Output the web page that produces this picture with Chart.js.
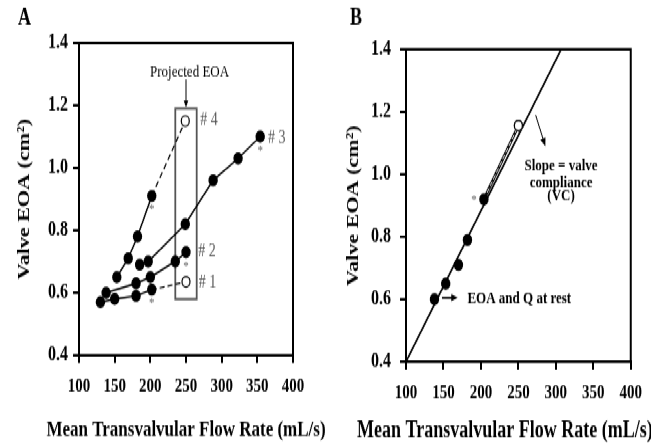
<!DOCTYPE html>
<html>
<head>
<meta charset="utf-8">
<script src="https://cdn.jsdelivr.net/npm/chart.js@4.4.0/dist/chart.umd.min.js"></script>
<style>
  html, body { margin: 0; padding: 0; background: #fff; overflow: hidden; }
  /* the figure is laid out on a 342px-tall canvas and stretched to full height */
  #figure { position: absolute; left: 0; top: 0; width: 651px; height: 342px;
            transform: scaleY(1.3012); transform-origin: 0 0; }
  #panelA { position: absolute; left: 0; top: 0; }
  #panelB { position: absolute; left: 330px; top: 0; }
</style>
</head>
<body>
<div id="figure">
  <canvas id="panelA" width="330" height="342"></canvas>
  <canvas id="panelB" width="321" height="342"></canvas>
</div>
<script>
// ---- panel A: EOA vs flow for each valve under stress ----
const valve1Flow = [130, 150, 180, 202];
const valve1Eoa  = [0.57, 0.58, 0.59, 0.61];
const valve1Proj = { flow: 250, eoa: 0.635 };

const valve2Flow = [138, 180, 200, 235, 250];
const valve2Eoa  = [0.60, 0.63, 0.65, 0.70, 0.73];

const valve3Flow = [185, 197, 249, 288, 323, 354];
const valve3Eoa  = [0.69, 0.70, 0.82, 0.96, 1.03, 1.10];

const valve4Flow = [153, 169, 182, 202];
const valve4Eoa  = [0.65, 0.71, 0.78, 0.91];
const valve4Proj = { flow: 249, eoa: 1.15 };

// ---- panel B: one valve with its compliance line ----
const restFlow = [138, 153, 170, 182, 204];
const restEoa  = [0.60, 0.65, 0.71, 0.79, 0.92];
const restProj = { flow: 250, eoa: 1.156 };
const vcLineFlow = [100, 307];
const vcLineEoa  = [0.4, 1.4];

// ---- axes ----
const flowTicks = [100, 150, 200, 250, 300, 350, 400];
const eoaTicks  = [0.4, 0.6, 0.8, 1.0, 1.2, 1.4];

const SERIF = "'Liberation Serif', 'Times New Roman', serif";

function pts(xs, ys) {
  return xs.map((x, i) => ({ x: x, y: ys[i] }));
}

function measured(xs, ys) {
  return {
    data: pts(xs, ys),
    borderColor: '#000',
    borderWidth: 1.4,
    pointRadius: 4,
    pointHoverRadius: 4,
    pointBackgroundColor: '#000',
    pointBorderColor: '#000',
    tension: 0
  };
}

function projected(xs, ys, proj) {
  const last = xs.length - 1;
  return {
    data: [{ x: xs[last], y: ys[last] }, { x: proj.flow, y: proj.eoa }],
    borderColor: '#000',
    borderWidth: 1.2,
    borderDash: [5, 3],
    pointRadius: [0, 4],
    pointBackgroundColor: '#fff',
    pointBorderColor: '#000',
    pointBorderWidth: 1.2,
    tension: 0
  };
}

function scales(yWidth, xHeight, yPad) {
  const grid = { display: true, drawOnChartArea: false, drawTicks: true,
                 tickLength: 6, color: '#000', lineWidth: 2 };
  return {
    x: {
      type: 'linear', min: 100, max: 400,
      afterBuildTicks: s => { s.ticks = flowTicks.map(v => ({ value: v })); },
      afterFit: s => { s.height = xHeight; },
      grid: grid,
      border: { display: true, color: '#000', width: 2 },
      ticks: { color: '#000', padding: 9, maxRotation: 0,
               font: { family: SERIF, weight: 'bold', size: 15 },
               callback: v => String(v) }
    },
    y: {
      type: 'linear', min: 0.4, max: 1.4,
      afterBuildTicks: s => { s.ticks = eoaTicks.map(v => ({ value: v })); },
      afterFit: s => { s.width = yWidth; },
      grid: grid,
      border: { display: true, color: '#000', width: 2 },
      ticks: { color: '#000', padding: yPad,
               font: { family: SERIF, weight: 'bold', size: 16 },
               callback: v => v.toFixed(1) }
    }
  };
}

function arrow(ctx, x1, y1, x2, y2, head) {
  const a = Math.atan2(y2 - y1, x2 - x1);
  ctx.beginPath();
  ctx.moveTo(x1, y1);
  ctx.lineTo(x2 - Math.cos(a) * head * 0.8, y2 - Math.sin(a) * head * 0.8);
  ctx.stroke();
  ctx.beginPath();
  ctx.moveTo(x2, y2);
  ctx.lineTo(x2 - head * Math.cos(a - 0.4), y2 - head * Math.sin(a - 0.4));
  ctx.lineTo(x2 - head * Math.cos(a + 0.4), y2 - head * Math.sin(a + 0.4));
  ctx.closePath();
  ctx.fill();
}

function text(ctx, str, x, y, font, align, color) {
  ctx.font = font;
  ctx.textAlign = align || 'left';
  ctx.textBaseline = 'middle';
  ctx.fillStyle = color || '#000';
  ctx.fillText(str, x, y);
}

// frame, letters and axis titles shared by both panels
function frame(chart, cfg) {
  const { ctx, chartArea: a } = chart;
  ctx.save();
  ctx.strokeStyle = '#000';
  ctx.lineWidth = 2;
  ctx.strokeRect(a.left, a.top, a.right - a.left, a.bottom - a.top);
  text(ctx, cfg.letter, cfg.letterX, 14, 'bold 18px ' + SERIF);
  text(ctx, 'Mean Transvalvular Flow Rate (mL/s)', cfg.xTitleX, 331,
       'bold ' + cfg.xTitleSize + 'px ' + SERIF, cfg.xTitleAlign);
  ctx.translate(cfg.yTitleX, (a.top + a.bottom) / 2);
  ctx.rotate(-Math.PI / 2);
  text(ctx, 'Valve EOA (cm²)', 0, 0, 'bold 17px ' + SERIF, 'center');
  ctx.restore();
}

// asterisk under the peak-stress measurement
function star(ctx, x, y) {
  text(ctx, '*', x, y, '11px ' + SERIF, 'center', '#666');
}

const panelADecor = {
  id: 'panelADecor',
  beforeDatasetsDraw(chart) {
    const { ctx, scales: { x, y } } = chart;
    ctx.save();
    ctx.strokeStyle = '#555';
    ctx.lineWidth = 1.8;
    const bx0 = x.getPixelForValue(235), bx1 = x.getPixelForValue(265);
    const by0 = y.getPixelForValue(1.19), by1 = y.getPixelForValue(0.58);
    ctx.strokeRect(bx0, by0, bx1 - bx0, by1 - by0);
    ctx.restore();
  },
  afterDraw(chart) {
    const { ctx, scales: { x, y } } = chart;
    frame(chart, { letter: 'A', letterX: 18, xTitleX: 186, xTitleAlign: 'center',
                   xTitleSize: 17, yTitleX: 25 });
    ctx.save();
    text(ctx, 'Projected EOA', x.getPixelForValue(255), y.getPixelForValue(1.305), '13px ' + SERIF, 'center');
    ctx.strokeStyle = '#000';
    ctx.fillStyle = '#000';
    ctx.lineWidth = 1;
    arrow(ctx, x.getPixelForValue(250), y.getPixelForValue(1.283),
          x.getPixelForValue(250), y.getPixelForValue(1.193), 6);
    const f = '14px ' + SERIF, c = '#555';
    text(ctx, '# 4', x.getPixelForValue(270), y.getPixelForValue(1.153), f, 'left', c);
    text(ctx, '# 3', x.getPixelForValue(365), y.getPixelForValue(1.095), f, 'left', c);
    text(ctx, '# 2', x.getPixelForValue(267), y.getPixelForValue(0.73), f, 'left', c);
    text(ctx, '# 1', x.getPixelForValue(268), y.getPixelForValue(0.634), f, 'left', c);
    [[valve1Flow, valve1Eoa], [valve2Flow, valve2Eoa], [valve3Flow, valve3Eoa], [valve4Flow, valve4Eoa]]
      .forEach(([fs, es]) => {
        const i = fs.length - 1;
        star(ctx, x.getPixelForValue(fs[i]), y.getPixelForValue(es[i]) + 11);
      });
    ctx.restore();
  }
};

const panelBDecor = {
  id: 'panelBDecor',
  afterDraw(chart) {
    const { ctx, scales: { x, y } } = chart;
    frame(chart, { letter: 'B', letterX: 20, xTitleX: 27, xTitleAlign: 'left',
                   xTitleSize: 18, yTitleX: 24 });
    ctx.save();
    const f = 'bold 13px ' + SERIF;
    text(ctx, 'Slope = valve', x.getPixelForValue(307), y.getPixelForValue(1.025), f, 'center');
    text(ctx, 'compliance', x.getPixelForValue(307), y.getPixelForValue(0.974), f, 'center');
    text(ctx, '(VC)', x.getPixelForValue(307), y.getPixelForValue(0.929), f, 'center');
    text(ctx, 'EOA and Q at rest', x.getPixelForValue(182), y.getPixelForValue(0.602), f, 'left');
    ctx.strokeStyle = '#000';
    ctx.fillStyle = '#000';
    ctx.lineWidth = 1;
    arrow(ctx, x.getPixelForValue(273), y.getPixelForValue(1.19),
          x.getPixelForValue(286), y.getPixelForValue(1.09), 7);
    ctx.lineWidth = 1.5;
    arrow(ctx, x.getPixelForValue(148), y.getPixelForValue(0.605),
          x.getPixelForValue(169), y.getPixelForValue(0.605), 7);
    const i = restFlow.length - 1;
    star(ctx, x.getPixelForValue(restFlow[i]) - 10, y.getPixelForValue(restEoa[i]) + 1);
    ctx.restore();
  }
};

const common = {
  responsive: false,
  animation: false,
  events: [],
  plugins: { legend: { display: false }, tooltip: { enabled: false }, title: { display: false } }
};

new Chart(document.getElementById('panelA'), {
  type: 'line',
  data: {
    datasets: [
      measured(valve1Flow, valve1Eoa),
      measured(valve2Flow, valve2Eoa),
      measured(valve3Flow, valve3Eoa),
      measured(valve4Flow, valve4Eoa),
      projected(valve1Flow, valve1Eoa, valve1Proj),
      projected(valve4Flow, valve4Eoa, valve4Proj)
    ]
  },
  options: Object.assign({}, common, {
    layout: { padding: { top: 33, right: 37, bottom: 0, left: 0 } },
    scales: scales(79, 69, 5)
  }),
  plugins: [panelADecor]
});

// projection drawn as a hollow (outlined) dashed segment
const restLine = projected(restFlow, restEoa, restProj);
restLine.borderDash = [];
restLine.borderWidth = 2.6;
const restLineInner = projected(restFlow, restEoa, restProj);
restLineInner.borderDash = [4, 2];
restLineInner.borderColor = '#fff';
restLineInner.borderWidth = 0.9;

const restPoints = measured(restFlow, restEoa);
restPoints.showLine = false;

new Chart(document.getElementById('panelB'), {
  type: 'line',
  data: {
    datasets: [
      restPoints,
      restLineInner,
      restLine,
      {
        data: pts(vcLineFlow, vcLineEoa),
        borderColor: '#000',
        borderWidth: 1.6,
        pointRadius: 0,
        tension: 0
      }
    ]
  },
  options: Object.assign({}, common, {
    layout: { padding: { top: 38, right: 18, bottom: 0, left: 0 } },
    scales: scales(76, 64, 9)
  }),
  plugins: [panelBDecor]
});
</script>
</body>
</html>
